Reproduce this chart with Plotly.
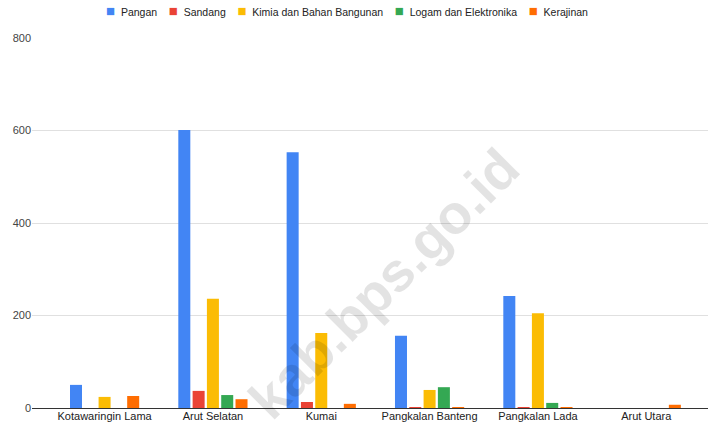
import plotly.graph_objects as go

categories = ["Kotawaringin Lama", "Arut Selatan", "Kumai", "Pangkalan Banteng", "Pangkalan Lada", "Arut Utara"]
pangan = [50, 601, 553, 156, 242, 0]
sandang = [0, 37, 13, 1, 1, 0]
kimia = [24, 236, 162, 39, 205, 0]
logam = [0, 28, 0, 45, 11, 0]
kerajinan = [26, 19, 9, 2, 1, 7]

series = [
    ("Pangan", pangan, "#4285F4"),
    ("Sandang", sandang, "#EA4335"),
    ("Kimia dan Bahan Bangunan", kimia, "#FBBC04"),
    ("Logam dan Elektronika", logam, "#34A853"),
    ("Kerajinan", kerajinan, "#FF6D01"),
]
y_ticks = [0, 200, 400, 600, 800]

fig = go.Figure()
for name, vals, color in series:
    fig.add_trace(go.Bar(name=name, x=categories, y=vals, marker_color=color,
                         marker_line_width=0))

legend_text = "\u00a0\u00a0\u00a0\u00a0".join(
    f"<span style='color:{c};font-size:15px'>\u25a0</span>\u00a0\u00a0{n}" for n, _, c in series
)

fig.update_layout(
    width=709, height=430,
    margin=dict(l=32, r=1, t=38, b=22, autoexpand=False),
    paper_bgcolor="white", plot_bgcolor="white",
    barmode="group", bargap=0.34, bargroupgap=0.16,
    font=dict(family="Arial, Liberation Sans, sans-serif", size=11, color="#222222"),
    showlegend=False,
    xaxis=dict(showgrid=False, showline=False, ticks="", automargin=False,
               range=[-0.67, 5.57],
               tickfont=dict(size=11, color="#222222")),
    yaxis=dict(range=[0, 800], tickvals=y_ticks, showgrid=True, gridcolor="#e0e0e0",
               zeroline=True, zerolinecolor="#333333", zerolinewidth=1, automargin=False,
               ticks="", tickfont=dict(size=11, color="#444444"), ticksuffix=" "),
    annotations=[
        dict(text=legend_text, x=(347 - 32) / 676, y=(408 - 10) / 370, xref="paper", yref="paper",
             xanchor="center", yanchor="middle", showarrow=False,
             font=dict(size=10.5, color="#222222")),
        dict(text="<b>kab.bps.go.id</b>", x=0.52, y=0.335, xref="paper", yref="paper",
             showarrow=False, textangle=-45,
             font=dict(size=55, color="rgba(0,0,0,0.11)",
                       family="Arial, Liberation Sans, sans-serif")),
    ],
)

fig.write_html("out.html", config={"displayModeBar": False},
               post_script="document.body.style.margin='0px';")
